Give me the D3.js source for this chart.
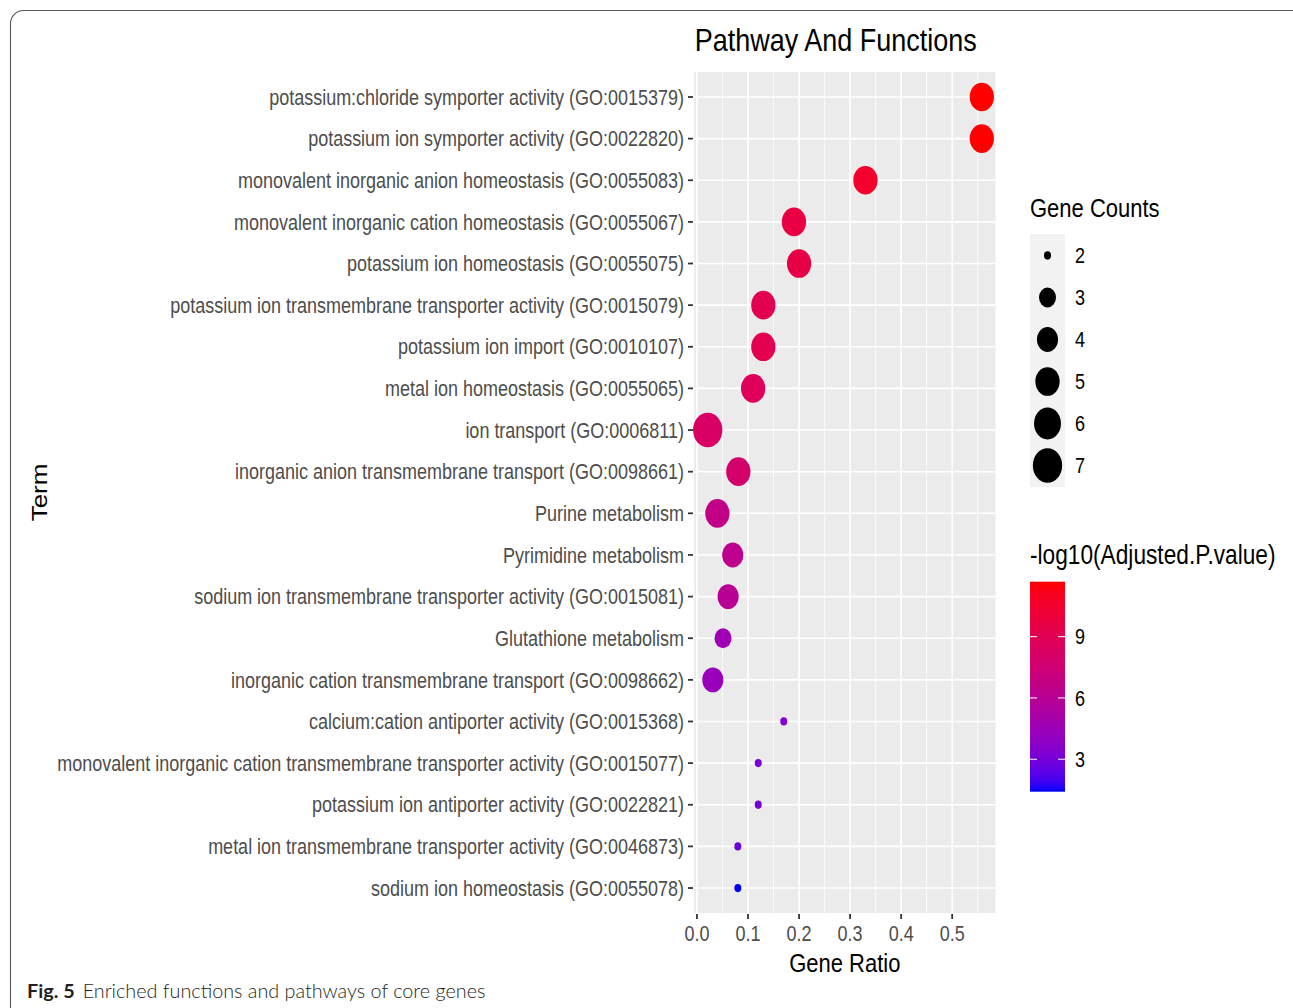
<!DOCTYPE html>
<html>
<head>
<meta charset="utf-8">
<script src="https://cdn.jsdelivr.net/npm/d3@7"></script>
<style>
  html, body { margin: 0; padding: 0; background: #fff; }
  svg { display: block; }
</style>
</head>
<body>
<svg id="chart" width="1293" height="1008"></svg>
<script>
// Enrichment terms, top to bottom
const terms = [
  "potassium:chloride symporter activity (GO:0015379)",
  "potassium ion symporter activity (GO:0022820)",
  "monovalent inorganic anion homeostasis (GO:0055083)",
  "monovalent inorganic cation homeostasis (GO:0055067)",
  "potassium ion homeostasis (GO:0055075)",
  "potassium ion transmembrane transporter activity (GO:0015079)",
  "potassium ion import (GO:0010107)",
  "metal ion homeostasis (GO:0055065)",
  "ion transport (GO:0006811)",
  "inorganic anion transmembrane transport (GO:0098661)",
  "Purine metabolism",
  "Pyrimidine metabolism",
  "sodium ion transmembrane transporter activity (GO:0015081)",
  "Glutathione metabolism",
  "inorganic cation transmembrane transport (GO:0098662)",
  "calcium:cation antiporter activity (GO:0015368)",
  "monovalent inorganic cation transmembrane transporter activity (GO:0015077)",
  "potassium ion antiporter activity (GO:0022821)",
  "metal ion transmembrane transporter activity (GO:0046873)",
  "sodium ion homeostasis (GO:0055078)"
];
const geneRatio = [0.558, 0.558, 0.33, 0.19, 0.2, 0.13, 0.13, 0.11, 0.021, 0.081,
                   0.04, 0.07, 0.061, 0.051, 0.031, 0.17, 0.12, 0.12, 0.08, 0.08];
const geneCounts = [5, 5, 5, 5, 5, 5, 5, 5, 7, 5, 5, 4, 4, 3, 4, 2, 2, 2, 2, 2];
const negLogP = [11.69, 11.69, 10.6, 9.7, 9.5, 9.1, 9.1, 8.7, 8.2, 7.9,
                 6.6, 6.3, 6.0, 4.6, 4.3, 3.4, 3.0, 3.0, 2.7, 1.41];

const xTicks = [0.0, 0.1, 0.2, 0.3, 0.4, 0.5];
const xTickLabels = ["0.0", "0.1", "0.2", "0.3", "0.4", "0.5"];
const xMinorTicks = [0.05, 0.15, 0.25, 0.35, 0.45, 0.55];
const sizeLegendValues = [2, 3, 4, 5, 6, 7];
const colorLegendTicks = [3, 6, 9];

const chartTitle = "Pathway And Functions";
const xTitle = "Gene Ratio";
const yTitle = "Term";
const sizeTitle = "Gene Counts";
const colorTitle = "-log10(Adjusted.P.value)";
const captionBold = "Fig. 5";
const captionText = "Enriched functions and pathways of core genes";

// ---- layout ----
const panel = { left: 694, right: 995.5, top: 72, bottom: 913 };
const stretch = 1.18;            // vertical aspect of the figure's glyphs and dots
const FONT = "'Liberation Sans', Arial, sans-serif";

const rows = terms.map((t, i) => ({
  term: t, ratio: geneRatio[i], count: geneCounts[i], p: negLogP[i]
}));

const svg = d3.select("#chart");

// figure frame
svg.append("rect")
  .attr("x", 10.5).attr("y", 10.5)
  .attr("width", 1310).attr("height", 1020)
  .attr("rx", 13).attr("ry", 13)
  .attr("fill", "none").attr("stroke", "#555").attr("stroke-width", 1.1);

// ---- scales ----
const [xmin, xmax] = d3.extent(geneRatio);
const xpad = (xmax - xmin) * 0.05;
const x = d3.scaleLinear().domain([xmin - xpad, xmax + xpad]).range([panel.left, panel.right]);

const y = d3.scalePoint().domain(terms).range([panel.top, panel.bottom]).padding(0.6);

const countExt = d3.extent(geneCounts);
const countT = d3.scaleLinear().domain(countExt).range([0, 1]);
const diam = d3.scaleSqrt().domain([0, 1]).range([7, 29.3]);
const rx = v => diam(countT(v)) / 2;

const pExt = d3.extent(negLogP);
const color = d3.scaleLinear().domain(pExt).range(["blue", "red"]).interpolate(d3.interpolateLab);

// text helper: glyphs share the figure's vertical stretch
function sText(g, tx, ty, str, opts) {
  const t = g.append("text")
    .attr("transform", `translate(${tx},${ty}) scale(1,${stretch})`)
    .attr("font-family", opts.family || FONT)
    .attr("font-size", opts.size)
    .attr("fill", opts.fill || "#000")
    .attr("text-anchor", opts.anchor || "start")
    .text(str);
  if (opts.dy) t.attr("dy", opts.dy);
  if (opts.weight) t.attr("font-weight", opts.weight);
  return t;
}

// ---- panel ----
const gPanel = svg.append("g");
gPanel.append("rect")
  .attr("x", panel.left).attr("y", panel.top)
  .attr("width", panel.right - panel.left).attr("height", panel.bottom - panel.top)
  .attr("fill", "#EBEBEB");

gPanel.selectAll("line.minor").data(xMinorTicks.filter(v => x(v) < panel.right)).join("line")
  .attr("class", "minor")
  .attr("x1", d => x(d)).attr("x2", d => x(d))
  .attr("y1", panel.top).attr("y2", panel.bottom)
  .attr("stroke", "#fff").attr("stroke-width", 0.8);

gPanel.selectAll("line.majorx").data(xTicks).join("line")
  .attr("class", "majorx")
  .attr("x1", d => x(d)).attr("x2", d => x(d))
  .attr("y1", panel.top).attr("y2", panel.bottom)
  .attr("stroke", "#fff").attr("stroke-width", 1.6);

gPanel.selectAll("line.majory").data(terms).join("line")
  .attr("class", "majory")
  .attr("x1", panel.left).attr("x2", panel.right)
  .attr("y1", d => y(d)).attr("y2", d => y(d))
  .attr("stroke", "#fff").attr("stroke-width", 1.6);

// points
gPanel.selectAll("ellipse.pt").data(rows).join("ellipse")
  .attr("class", "pt")
  .attr("cx", d => x(d.ratio))
  .attr("cy", d => y(d.term))
  .attr("rx", d => rx(d.count))
  .attr("ry", d => rx(d.count) * stretch)
  .attr("fill", d => color(d.p));

// ---- axes ----
const gY = svg.append("g");
gY.selectAll("line").data(terms).join("line")
  .attr("x1", panel.left - 6).attr("x2", panel.left - 1)
  .attr("y1", d => y(d)).attr("y2", d => y(d))
  .attr("stroke", "#333").attr("stroke-width", 1.8);
terms.forEach(t => {
  sText(gY, panel.left - 10, y(t), t, { size: 18, fill: "#4D4D4D", anchor: "end", dy: "0.36em" });
});

const gX = svg.append("g");
gX.selectAll("line").data(xTicks).join("line")
  .attr("x1", d => x(d)).attr("x2", d => x(d))
  .attr("y1", panel.bottom + 1).attr("y2", panel.bottom + 6)
  .attr("stroke", "#333").attr("stroke-width", 1.8);
xTicks.forEach((v, i) => {
  sText(gX, x(v), 941, xTickLabels[i], { size: 18, fill: "#4D4D4D", anchor: "middle" });
});

// titles
sText(svg, (panel.left + panel.right) / 2 - 9, 51, chartTitle, { size: 27, anchor: "middle" });
sText(svg, (panel.left + panel.right) / 2, 972, xTitle, { size: 22, anchor: "middle" });
svg.append("text")
  .attr("transform", `translate(47,${(panel.top + panel.bottom) / 2}) rotate(-90) scale(${stretch},1)`)
  .attr("font-family", FONT).attr("font-size", 22).attr("text-anchor", "middle")
  .text(yTitle);

// ---- size legend ----
const sizeKey = { x: 1030, y: 234, w: 35, h: 42 };
const gS = svg.append("g");
sText(gS, sizeKey.x, 217, sizeTitle, { size: 22 });
gS.append("rect")
  .attr("x", sizeKey.x).attr("y", sizeKey.y)
  .attr("width", sizeKey.w).attr("height", sizeKey.h * sizeLegendValues.length + 1)
  .attr("fill", "#F2F2F2");
sizeLegendValues.forEach((v, i) => {
  const cy = sizeKey.y + sizeKey.h * i + 21.5;
  gS.append("ellipse")
    .attr("cx", sizeKey.x + sizeKey.w / 2).attr("cy", cy)
    .attr("rx", rx(v)).attr("ry", rx(v) * stretch)
    .attr("fill", "#000");
  sText(gS, 1075, cy, String(v), { size: 18, dy: "0.36em" });
});

// ---- colour legend ----
const bar = { x: 1030, y0: 581.7, y1: 791.7, w: 35 };
const gC = svg.append("g");
sText(gC, bar.x, 564, colorTitle, { size: 22.7 });
const barY = d3.scaleLinear().domain(pExt).range([bar.y1, bar.y0]);
const grad = svg.append("defs").append("linearGradient")
  .attr("id", "pgrad").attr("x1", 0).attr("y1", 1).attr("x2", 0).attr("y2", 0);
d3.range(0, 1.0001, 0.05).forEach(t => {
  grad.append("stop").attr("offset", t)
    .attr("stop-color", color(pExt[0] + t * (pExt[1] - pExt[0])));
});
gC.append("rect")
  .attr("x", bar.x).attr("y", bar.y0)
  .attr("width", bar.w).attr("height", bar.y1 - bar.y0)
  .attr("fill", "url(#pgrad)");
colorLegendTicks.forEach(v => {
  const yy = barY(v);
  [[bar.x, bar.x + 7], [bar.x + bar.w - 7, bar.x + bar.w]].forEach(([a, b]) => {
    gC.append("line").attr("x1", a).attr("x2", b).attr("y1", yy).attr("y2", yy)
      .attr("stroke", "#fff").attr("stroke-width", 1);
  });
  sText(gC, 1075, yy, String(v), { size: 18, dy: "0.36em" });
});

// ---- caption ----
const cap = svg.append("text")
  .attr("x", 27).attr("y", 998)
  .attr("font-family", "Lato, 'Open Sans', sans-serif")
  .attr("font-size", 19.8).attr("fill", "#231F20");
cap.append("tspan").attr("font-weight", "bold").text(captionBold);
cap.append("tspan").attr("dx", 8).attr("font-weight", 300).text(captionText);
</script>
</body>
</html>
